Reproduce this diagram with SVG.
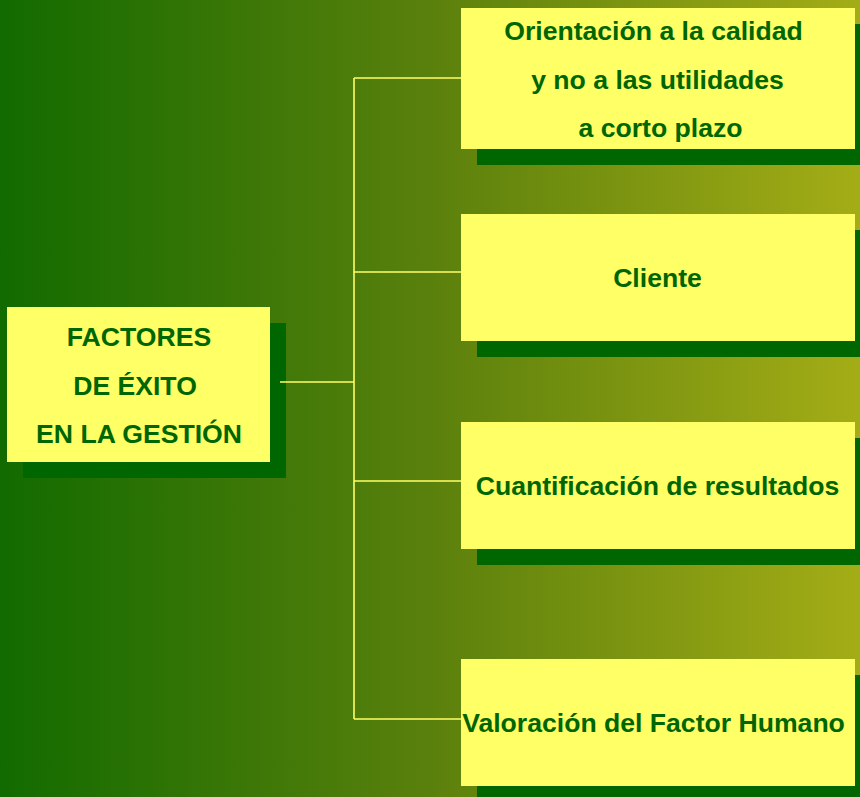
<svg xmlns="http://www.w3.org/2000/svg" width="860" height="797" viewBox="0 0 860 797">
  <defs>
    <linearGradient id="bg" x1="0" y1="0" x2="860" y2="0" gradientUnits="userSpaceOnUse">
      <stop offset="0" stop-color="#126b00"/>
      <stop offset="0.5" stop-color="#5a800c"/>
      <stop offset="1" stop-color="#a4ad16"/>
    </linearGradient>
  </defs>
  <style>
    .box { fill: #ffff66; }
    .shadow { fill: #006600; }
    .lbl { font-family: "Liberation Sans", Arial, sans-serif; font-weight: bold; font-size: 26.6px; fill: #006600; text-anchor: middle; }
    .conn { stroke: #ffff66; stroke-width: 1.6; fill: none; }
  </style>
  <rect x="0" y="0" width="860" height="797" fill="url(#bg)"/>

  <g id="factores">
    <rect class="shadow" x="23" y="323" width="263" height="155"/>
    <rect class="box" x="7" y="307" width="263" height="155"/>
    <text class="lbl" x="139" y="346">FACTORES</text>
    <text class="lbl" x="135" y="395">DE ÉXITO</text>
    <text class="lbl" x="139" y="443">EN LA GESTIÓN</text>
  </g>

  <g id="orientacion">
    <rect class="shadow" x="477" y="24" width="394" height="141"/>
    <rect class="box" x="461" y="8" width="394" height="141"/>
    <text class="lbl" x="653.5" y="40">Orientación a la calidad</text>
    <text class="lbl" x="657.5" y="89">y no a las utilidades</text>
    <text class="lbl" x="660.5" y="137">a corto plazo</text>
  </g>

  <g id="cliente">
    <rect class="shadow" x="477" y="230" width="394" height="127"/>
    <rect class="box" x="461" y="214" width="394" height="127"/>
    <text class="lbl" x="657.5" y="287">Cliente</text>
  </g>

  <g id="cuantificacion">
    <rect class="shadow" x="477" y="438" width="394" height="127"/>
    <rect class="box" x="461" y="422" width="394" height="127"/>
    <text class="lbl" x="657.5" y="495">Cuantificación de resultados</text>
  </g>

  <g id="valoracion">
    <rect class="shadow" x="477" y="675" width="394" height="127"/>
    <rect class="box" x="461" y="659" width="394" height="127"/>
    <text class="lbl" x="653.5" y="732">Valoración del Factor Humano</text>
  </g>

  <g id="connectors">
    <path class="conn" d="M280 382 H354"/>
    <path class="conn" d="M354 78 V719"/>
    <path class="conn" d="M354 78 H461"/>
    <path class="conn" d="M354 272 H461"/>
    <path class="conn" d="M354 481 H461"/>
    <path class="conn" d="M354 719 H461"/>
  </g>
</svg>
